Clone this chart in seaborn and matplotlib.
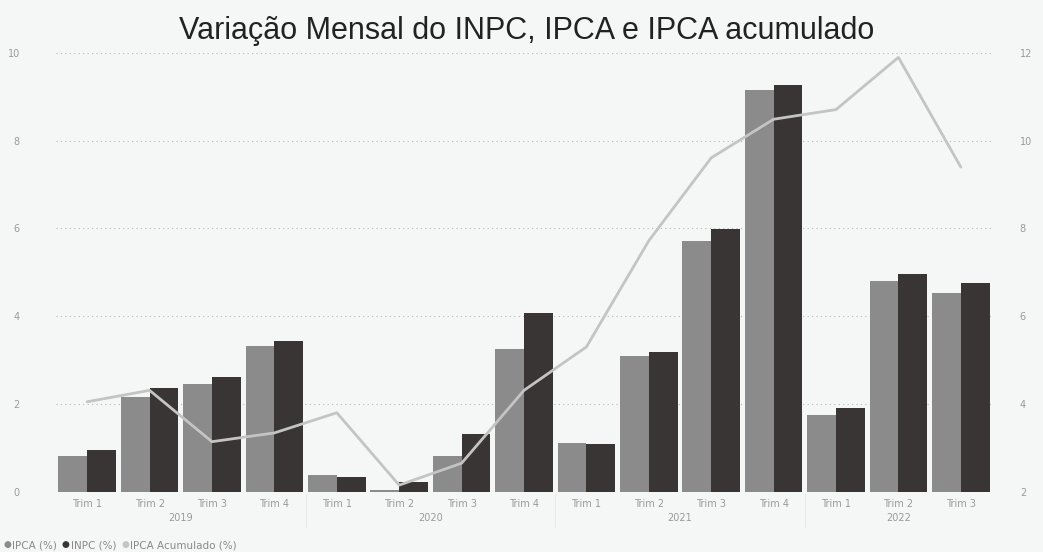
import numpy as np
import matplotlib
matplotlib.use("Agg")
import matplotlib.pyplot as plt
import pandas as pd
import seaborn as sns

# dados (variação trimestral, %)
anos = ["2019", "2020", "2021", "2022"]
trimestres = ["Trim 1", "Trim 2", "Trim 3", "Trim 4",
              "Trim 1", "Trim 2", "Trim 3", "Trim 4",
              "Trim 1", "Trim 2", "Trim 3", "Trim 4",
              "Trim 1", "Trim 2", "Trim 3"]
ano_trim = ["2019"] * 4 + ["2020"] * 4 + ["2021"] * 4 + ["2022"] * 3
ipca = [0.82, 2.16, 2.45, 3.32, 0.39, 0.05, 0.82, 3.26,
        1.10, 3.09, 5.72, 9.15, 1.74, 4.80, 4.53]
inpc = [0.95, 2.36, 2.61, 3.43, 0.34, 0.23, 1.32, 4.07,
        1.08, 3.18, 5.99, 9.28, 1.90, 4.96, 4.76]
ipca_acum = [4.05, 4.31, 3.14, 3.34, 3.80, 2.15, 2.65, 4.31,
             5.30, 7.72, 9.61, 10.49, 10.71, 11.90, 9.40]

periodo = [a + " " + t for a, t in zip(ano_trim, trimestres)]

df = pd.DataFrame({"periodo": periodo, "IPCA (%)": ipca, "INPC (%)": inpc})
df_long = df.melt(id_vars="periodo", var_name="serie", value_name="valor")

fundo = "#f5f6f6"
cor_ipca = "#8b8b8b"
cor_inpc = "#3a3535"
cor_acum = "#c4c4c4"
cor_texto = "#9a9a9a"

sns.set_style("white")
fig = plt.figure(figsize=(10.43, 5.52), dpi=100, facecolor=fundo)
ax = fig.add_axes([56 / 1043, 60.3 / 552, 936 / 1043, 438.7 / 552])
ax.set_facecolor(fundo)

sns.barplot(data=df_long, x="periodo", y="valor", hue="serie", order=periodo,
            palette=[cor_ipca, cor_inpc], width=0.92, saturation=1,
            linewidth=0, legend=False, ax=ax)

ax.set_xlim(-0.5, len(periodo) - 0.5)
ax.set_ylim(0, 10)
ax.set_yticks(np.arange(0, 11, 2))
ax.yaxis.grid(True, linestyle=(0, (1, 3)), color="#b8b8b8", linewidth=0.8)
ax.set_axisbelow(True)
ax.tick_params(axis="y", length=0, pad=26, labelsize=7, labelcolor=cor_texto)
ax.set_xticks(range(len(periodo)))
ax.set_xticklabels(trimestres)
ax.tick_params(axis="x", length=0, pad=5, labelsize=7, labelcolor=cor_texto)
ax.set_xlabel("")
ax.set_ylabel("")
for s in ax.spines.values():
    s.set_visible(False)

# rótulos dos anos e separadores
pos = 0
for ano in anos:
    n = ano_trim.count(ano)
    ax.text(pos + (n - 1) / 2, -0.6, ano, ha="center", va="center",
            fontsize=7, color=cor_texto, clip_on=False)
    if pos > 0:
        ax.plot([pos - 0.5, pos - 0.5], [-0.05, -0.8], color="#e6e6e6",
                linewidth=0.6, clip_on=False)
    pos += n

# linha do IPCA acumulado (eixo da direita)
ax2 = ax.twinx()
sns.lineplot(x=np.arange(len(periodo)), y=ipca_acum, color=cor_acum,
             linewidth=2, ax=ax2)
ax2.set_ylim(2, 12)
ax2.set_yticks(np.arange(2, 13, 2))
ax2.tick_params(axis="y", length=0, pad=20, labelsize=7, labelcolor=cor_texto)
for s in ax2.spines.values():
    s.set_visible(False)

fig.text(0.505, 0.943, "Variação Mensal do INPC, IPCA e IPCA acumulado",
         ha="center", va="center", fontsize=22, color="#222222",
         family="Liberation Sans")

# legenda (itens postos um depois do outro)
itens = [("IPCA (%)", cor_ipca), ("INPC (%)", cor_inpc),
         ("IPCA Acumulado (%)", cor_acum)]
renderer = fig.canvas.get_renderer()
xp = 3
for nome, cor in itens:
    m = fig.text(xp / 1043, 7 / 552, "●", color=cor, fontsize=6.5,
                 va="center", ha="left")
    xp = m.get_window_extent(renderer).x1 + 1
    t = fig.text(xp / 1043, 7 / 552, nome, color="#8a8a8a", fontsize=7.5,
                 va="center", ha="left")
    xp = t.get_window_extent(renderer).x1 + 5

fig.savefig("out.png", dpi=100, facecolor=fundo)
